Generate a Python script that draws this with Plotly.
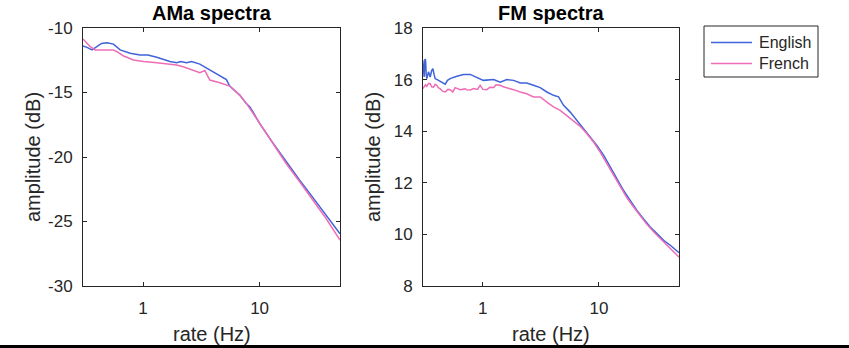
import math
import plotly.graph_objects as go

# ---------------- data ----------------
am_rate_en = [0.305, 0.33, 0.365, 0.40, 0.44, 0.49, 0.557, 0.636, 0.70, 0.774, 0.943, 1.10, 1.31, 1.49,
              1.70, 1.94, 2.10, 2.36, 2.61, 3.07, 3.50, 3.99, 4.55, 5.19, 5.54, 6.75, 7.69, 8.22, 8.77,
              10.0, 13.0, 16.9, 22.0, 28.6, 37.1, 49.0]
am_en = [-11.4, -11.5, -11.7, -11.45, -11.2, -11.14, -11.25, -11.7, -11.8, -11.96, -12.1, -12.1, -12.27,
         -12.43, -12.6, -12.7, -12.6, -12.7, -12.6, -12.8, -13.1, -13.4, -13.7, -14.0, -14.5, -15.2,
         -15.85, -16.1, -16.5, -17.4, -18.9, -20.36, -21.78, -23.13, -24.5, -25.95]

am_rate_fr = [0.305, 0.352, 0.389, 0.43, 0.502, 0.557, 0.596, 0.679, 0.726, 0.826, 0.943, 1.01, 1.31,
              1.49, 1.70, 1.94, 2.21, 2.36, 2.69, 3.07, 3.39, 3.74, 4.55, 5.54, 6.75, 7.69, 8.77, 10.0,
              13.0, 16.9, 22.0, 28.6, 37.1, 49.0]
am_fr = [-10.85, -11.45, -11.7, -11.7, -11.65, -11.7, -11.84, -12.17, -12.27, -12.48, -12.55, -12.6,
         -12.7, -12.74, -12.8, -12.87, -13.0, -13.1, -13.26, -13.46, -13.3, -14.03, -14.24, -14.5,
         -15.2, -15.84, -16.6, -17.4, -18.94, -20.5, -21.9, -23.33, -24.75, -26.45]

fm_rate_en = [0.304, 0.308, 0.312, 0.317, 0.321, 0.325, 0.329, 0.340, 0.352, 0.362, 0.371, 0.380, 0.388,
              0.415, 0.443, 0.474, 0.496, 0.523, 0.597, 0.681, 0.778, 0.888, 1.01, 1.24, 1.41, 1.61,
              1.84, 2.10, 2.39, 2.73, 3.12, 3.56, 4.06, 4.49, 4.96, 5.66, 6.46, 7.38, 8.42, 9.61,
              10.97, 12.52, 14.29, 16.32, 18.62, 21.26, 24.27, 27.70, 31.62, 36.09, 41.20, 49.0]
fm_en = [16.75, 16.3, 16.1, 16.8, 16.75, 16.2, 16.04, 16.3, 16.1, 16.35, 16.42, 16.2, 16.04,
         15.97, 15.9, 15.82, 15.97, 16.04, 16.13, 16.2, 16.2, 16.07, 15.97, 16.0, 15.9, 16.0,
         15.97, 15.87, 15.87, 15.78, 15.69, 15.52, 15.39, 15.33, 15.0, 14.74, 14.42, 14.1, 13.78,
         13.45, 13.07, 12.6, 12.16, 11.7, 11.32, 10.93, 10.6, 10.29, 10.03, 9.77, 9.58, 9.29]

fm_rate_fr = [0.304, 0.312, 0.321, 0.329, 0.340, 0.352, 0.362, 0.376, 0.388, 0.401, 0.415, 0.429, 0.45,
              0.474, 0.50, 0.523, 0.55, 0.577, 0.638, 0.70, 0.728, 0.78, 0.831, 0.90, 0.948, 1.0,
              1.08, 1.15, 1.24, 1.30, 1.41, 1.50, 1.61, 1.84, 2.10, 2.39, 2.73, 3.12, 3.56, 4.06,
              4.64, 5.30, 6.05, 6.90, 7.88, 8.99, 10.26, 11.72, 13.37, 15.27, 17.43, 19.89, 22.71,
              25.92, 29.59, 33.78, 38.55, 49.0]
fm_fr = [15.65, 15.72, 15.8, 15.74, 15.85, 15.84, 15.72, 15.71, 15.82, 15.78, 15.68, 15.65, 15.55,
         15.52, 15.62, 15.61, 15.52, 15.69, 15.61, 15.64, 15.61, 15.6, 15.65, 15.62, 15.78, 15.62,
         15.61, 15.7, 15.69, 15.8, 15.78, 15.72, 15.69, 15.61, 15.52, 15.45, 15.33, 15.33, 15.13,
         14.94, 14.81, 14.61, 14.42, 14.19, 13.9, 13.58, 13.19, 12.74, 12.29, 11.84, 11.42, 11.06,
         10.7, 10.39, 10.1, 9.84, 9.58, 9.12]

series_names = ["English", "French"]
x_tickvals = [1, 10]
x_ticktext = ["1", "10"]
am_yticks = [-30, -25, -20, -15, -10]
am_yticktext = ["-30", "-25", "-20", "-15", "-10"]
fm_yticks = [8, 10, 12, 14, 16, 18]
fm_yticktext = ["8", "10", "12", "14", "16", "18"]
panel_titles = ["AMa spectra", "FM spectra"]
x_label = "rate (Hz)"
y_label = "amplitude (dB)"

# ---------------- figure ----------------
W, H = 849, 348
BLUE = "#3f63d8"
PINK = "#ef6db6"
AX = "#262626"
FONT = "Liberation Sans, Arial, Helvetica, sans-serif"
colors = [BLUE, PINK]

fig = go.Figure()
fig.add_trace(go.Scatter(x=am_rate_en, y=am_en, mode="lines", name=series_names[0],
                         line=dict(color=BLUE, width=1.5), xaxis="x", yaxis="y"))
fig.add_trace(go.Scatter(x=am_rate_fr, y=am_fr, mode="lines", name=series_names[1],
                         line=dict(color=PINK, width=1.5), xaxis="x", yaxis="y"))
fig.add_trace(go.Scatter(x=fm_rate_en, y=fm_en, mode="lines", name=series_names[0],
                         line=dict(color=BLUE, width=1.5), xaxis="x2", yaxis="y2"))
fig.add_trace(go.Scatter(x=fm_rate_fr, y=fm_fr, mode="lines", name=series_names[1],
                         line=dict(color=PINK, width=1.5), xaxis="x2", yaxis="y2"))

xr = [math.log10(0.305), math.log10(49.0)]


def px(v):
    return v / W


def py(v):
    return 1 - v / H


common_ax = dict(showline=True, linecolor=AX, linewidth=1, mirror="ticks", ticks="inside",
                 ticklen=4, tickcolor=AX, showgrid=False, zeroline=False,
                 tickfont=dict(family=FONT, size=17, color=AX))

dom_y = [py(286), py(28)]
fig.update_layout(
    width=W, height=H,
    margin=dict(l=0, r=0, t=0, b=0, autoexpand=False),
    paper_bgcolor="white", plot_bgcolor="white",
    font=dict(family=FONT, color=AX),
    showlegend=False,
    xaxis=dict(domain=[px(83), px(340)], type="log", range=xr, tickvals=x_tickvals,
               ticktext=x_ticktext, anchor="y", ticklabelstandoff=7, **common_ax),
    yaxis=dict(domain=dom_y, range=[-30, -10], tickvals=am_yticks, ticktext=am_yticktext,
               anchor="x", ticklabelstandoff=6, **common_ax),
    xaxis2=dict(domain=[px(423), px(679)], type="log", range=xr, tickvals=x_tickvals,
                ticktext=x_ticktext, anchor="y2", ticklabelstandoff=7, **common_ax),
    yaxis2=dict(domain=dom_y, range=[8, 18], tickvals=fm_yticks, ticktext=fm_yticktext,
                anchor="x2", ticklabelstandoff=6, **common_ax),
)

ann = []
for cx, t in [((83 + 340) / 2, panel_titles[0]), ((423 + 679) / 2, panel_titles[1])]:
    ann.append(dict(x=px(cx), y=py(13), xref="paper", yref="paper", text="<b>%s</b>" % t,
                    showarrow=False, xanchor="center", yanchor="middle",
                    font=dict(family=FONT, size=20, color="black")))
    ann.append(dict(x=px(cx), y=py(334), xref="paper", yref="paper", text=x_label,
                    showarrow=False, xanchor="center", yanchor="middle",
                    font=dict(family=FONT, size=20, color=AX)))
for cx in [33, 373]:
    ann.append(dict(x=px(cx), y=py(157), xref="paper", yref="paper", text=y_label,
                    showarrow=False, xanchor="center", yanchor="middle", textangle=-90,
                    font=dict(family=FONT, size=20, color=AX)))

# legend (box, line samples, labels)
fig.add_shape(type="rect", xref="paper", yref="paper", x0=px(704), x1=px(818), y0=py(77), y1=py(26),
              line=dict(color=AX, width=1), fillcolor="white", layer="above")
for i, (name, col) in enumerate(zip(series_names, colors)):
    yc = [42.5, 63.5][i]
    fig.add_shape(type="line", xref="paper", yref="paper", x0=px(711), x1=px(752), y0=py(yc), y1=py(yc),
                  line=dict(color=col, width=1.5), layer="above")
    ann.append(dict(x=px(757), y=py(yc), xref="paper", yref="paper", text=name, showarrow=False,
                    xanchor="left", yanchor="middle", font=dict(family=FONT, size=16, color=AX)))
fig.update_layout(annotations=ann)

# black strip along the bottom edge of the image
fig.add_shape(type="rect", xref="paper", yref="paper", x0=0, x1=1, y0=0, y1=3 / H,
              fillcolor="black", line=dict(width=0), layer="above")

fig.write_html("out.html")
